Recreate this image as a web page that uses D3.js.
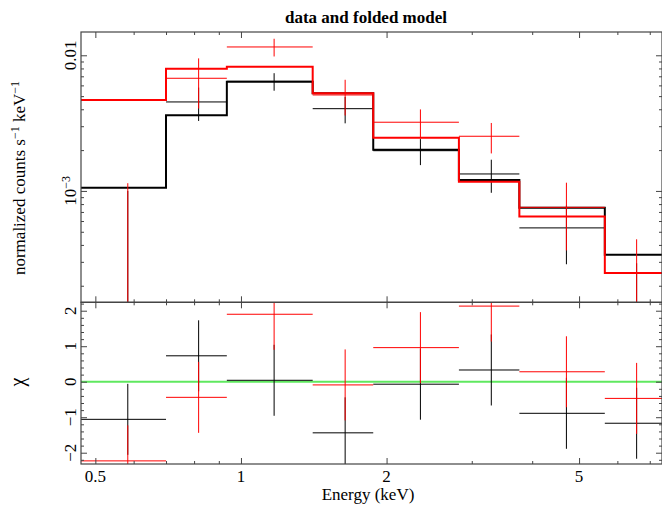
<!DOCTYPE html>
<html>
<head>
<meta charset="utf-8">
<script src="https://cdn.jsdelivr.net/npm/d3@7"></script>
<style>
  html, body { margin: 0; padding: 0; background: #fff; }
  svg { display: block; }
  text { font-family: "Liberation Serif", "DejaVu Serif", serif; fill: #000; }
</style>
</head>
<body>
<svg id="chart" width="662" height="508"></svg>
<script>
// ---------- data ----------
const title = "data and folded model";
const energyEdges = [0.467, 0.700, 0.935, 1.407, 1.877, 2.822, 3.763, 5.652, 7.50];
const blackModel = [1.057e-3, 3.61e-3, 6.39e-3, 5.25e-3, 2.01e-3, 1.205e-3, 7.53e-4, 3.38e-4];
const redModel   = [4.68e-3, 7.97e-3, 8.24e-3, 5.25e-3, 2.47e-3, 1.171e-3, 6.47e-4, 2.48e-4];
const blackData  = [5e-5, 4.53e-3, 6.43e-3, 4.04e-3, 1.98e-3, 1.334e-3, 5.34e-4, 2.8e-5];
const blackErr   = [0.95e-3, 1.25e-3, 0.95e-3, 0.89e-3, 0.43e-3, 0.365e-3, 2.46e-4, 2.65e-4];
const redData    = [-1.74e-3, 6.77e-3, 1.152e-2, 5.1e-3, 3.21e-3, 2.53e-3, 7.57e-4, 0.78e-4];
const redErr     = [2.88e-3, 2.72e-3, 1.72e-3, 1.5e-3, 0.78e-3, 0.64e-3, 3.93e-4, 3.62e-4];
const blackChi   = [-1.06, 0.73, 0.04, -1.44, -0.07, 0.33, -0.89, -1.17];
const redChi     = [-2.23, -0.44, 1.9, -0.09, 0.96, 2.13, 0.28, -0.47];
const chiErr = 1;

const xTickMajor = [0.5, 1, 2, 5];
const xTickLabels = ["0.5", "1", "2", "5"];
const xTickMinor = [0.6, 0.7, 0.8, 0.9, 3, 4, 6, 7];
const yTopMajor = [1e-3, 1e-2];
const yTopLabels = [["10", "−3"], ["0.01", null]];
const yResMajor = [-2, -1, 0, 1, 2];
const yResLabels = ["−2", "−1", "0", "1", "2"];

// ---------- layout ----------
const L = 81, R = 662, T = 32, MID = 302.3, B = 464;
const svg = d3.select("#chart");

const x = d3.scaleLog().domain([0.467, 7.42]).range([L, R]);
const yTop = d3.scaleLog().domain([1.51e-4, 0.01485]).range([MID, T]);
const yRes = d3.scaleLinear().domain([-2.318, 2.237]).range([B, MID]);

const defs = svg.append("defs");
defs.append("clipPath").attr("id", "clipTop").append("rect")
  .attr("x", L).attr("y", T).attr("width", R - L).attr("height", MID - T);
defs.append("clipPath").attr("id", "clipRes").append("rect")
  .attr("x", L).attr("y", MID).attr("width", R - L).attr("height", B - MID);

const bins = d3.range(energyEdges.length - 1).map(i => ({
  lo: energyEdges[i], hi: energyEdges[i + 1], c: (energyEdges[i] + energyEdges[i + 1]) / 2, i
}));

// ---------- top panel ----------
const gTop = svg.append("g").attr("clip-path", "url(#clipTop)");
const yMin = yTop.domain()[0] * 0.5;

function drawCrossesTop(vals, errs, color) {
  const g = gTop.append("g").attr("stroke", color).attr("stroke-width", 1).attr("fill", "none");
  bins.forEach(b => {
    const v = vals[b.i], e = errs[b.i];
    if (v > 0) {
      g.append("line").attr("x1", x(b.lo)).attr("x2", x(b.hi))
        .attr("y1", yTop(v)).attr("y2", yTop(v));
    }
    g.append("line").attr("x1", x(b.c)).attr("x2", x(b.c))
      .attr("y1", yTop(Math.max(v - e, yMin))).attr("y2", yTop(v + e));
  });
}
function drawStep(vals, color) {
  const pts = energyEdges.map((e, i) => [e, vals[Math.min(i, vals.length - 1)]]);
  const line = d3.line().x(d => x(d[0])).y(d => yTop(d[1])).curve(d3.curveStepAfter);
  gTop.append("path").datum(pts).attr("d", line)
    .attr("fill", "none").attr("stroke", color).attr("stroke-width", 2);
}
drawStep(blackModel, "#000");
drawCrossesTop(blackData, blackErr, "#000");
drawCrossesTop(redData, redErr, "#ff0000");
drawStep(redModel, "#ff0000");

// ---------- residual panel ----------
const gRes = svg.append("g").attr("clip-path", "url(#clipRes)");
gRes.append("line").attr("x1", L).attr("x2", R).attr("y1", yRes(0)).attr("y2", yRes(0))
  .attr("stroke", "#5fe85f").attr("stroke-width", 2);
function drawCrossesRes(vals, color) {
  const g = gRes.append("g").attr("stroke", color).attr("stroke-width", 1).attr("fill", "none");
  bins.forEach(b => {
    const v = vals[b.i];
    g.append("line").attr("x1", x(b.lo)).attr("x2", x(b.hi))
      .attr("y1", yRes(v)).attr("y2", yRes(v));
    g.append("line").attr("x1", x(b.c)).attr("x2", x(b.c))
      .attr("y1", yRes(v - chiErr)).attr("y2", yRes(v + chiErr));
  });
}
drawCrossesRes(blackChi, "#000");
drawCrossesRes(redChi, "#ff0000");

// ---------- axes ----------
const axisColor = "#444";
function styleAxis(g) {
  g.select(".domain").remove();
  g.selectAll("line").attr("stroke", axisColor).attr("stroke-width", 1);
  g.selectAll("text").remove();
}
function addAxis(gen, tr) {
  svg.append("g").attr("transform", tr).call(gen).call(styleAxis);
}
[[d3.axisTop, T], [d3.axisBottom, MID], [d3.axisTop, MID], [d3.axisBottom, B]].forEach(([fn, yy]) => {
  addAxis(fn(x).tickValues(xTickMajor).tickSize(-6).tickFormat(""), `translate(0,${yy})`);
  addAxis(fn(x).tickValues(xTickMinor).tickSize(-3).tickFormat(""), `translate(0,${yy})`);
});
const yTopMinor = [];
[1e-4, 1e-3, 1e-2].forEach(d => { for (let k = 2; k <= 9; k++) { const v = k * d; if (v > yTop.domain()[0] && v < yTop.domain()[1]) yTopMinor.push(v); } });
[[d3.axisLeft, L], [d3.axisRight, R]].forEach(([fn, xx]) => {
  addAxis(fn(yTop).tickValues(yTopMajor).tickSize(-6).tickFormat(""), `translate(${xx},0)`);
  addAxis(fn(yTop).tickValues(yTopMinor).tickSize(-3).tickFormat(""), `translate(${xx},0)`);
});
const yResMinor = d3.range(-22, 23, 2).map(v => v / 10).filter(v => Math.abs(v - Math.round(v)) > 1e-6);
[[d3.axisLeft, L], [d3.axisRight, R]].forEach(([fn, xx]) => {
  addAxis(fn(yRes).tickValues(yResMajor).tickSize(-6).tickFormat(""), `translate(${xx},0)`);
  addAxis(fn(yRes).tickValues(yResMinor).tickSize(-3).tickFormat(""), `translate(${xx},0)`);
});

const frame = svg.append("g").attr("fill", "none").attr("stroke", axisColor).attr("stroke-width", 1.2);
frame.append("rect").attr("x", L).attr("y", T).attr("width", R - L).attr("height", MID - T);
frame.append("rect").attr("x", L).attr("y", MID).attr("width", R - L).attr("height", B - MID);

// ---------- labels ----------
svg.append("text").attr("x", 366).attr("y", 23).attr("text-anchor", "middle")
  .attr("font-size", 17).attr("font-weight", "bold").text(title);

xTickMajor.forEach((v, i) => {
  svg.append("text").attr("x", x(v)).attr("y", 482).attr("text-anchor", "middle")
    .attr("font-size", 17).text(xTickLabels[i]);
});
svg.append("text").attr("x", 368).attr("y", 500).attr("text-anchor", "middle")
  .attr("font-size", 17).text("Energy (keV)");

yTopMajor.forEach((v, i) => {
  const t = svg.append("text").attr("transform", `translate(76,${yTop(v)}) rotate(-90)`)
    .attr("text-anchor", "middle").attr("font-size", 17);
  t.append("tspan").text(yTopLabels[i][0]);
  if (yTopLabels[i][1]) t.append("tspan").attr("dy", -6).attr("font-size", 12).text(yTopLabels[i][1]);
});
yResMajor.forEach((v, i) => {
  svg.append("text").attr("transform", `translate(76,${yRes(v)}) rotate(-90)`)
    .attr("text-anchor", "middle").attr("font-size", 17).text(yResLabels[i]);
});

const yl = svg.append("text").attr("transform", "translate(25,178) rotate(-90)")
  .attr("text-anchor", "middle").attr("font-size", 17);
yl.append("tspan").text("normalized counts s");
yl.append("tspan").attr("dy", -6).attr("font-size", 12).text("−1");
yl.append("tspan").attr("dy", 6).text(" keV");
yl.append("tspan").attr("dy", -6).attr("font-size", 12).text("−1");

svg.append("text").attr("transform", "translate(24,382) rotate(-90)")
  .attr("text-anchor", "middle").attr("font-size", 20).text("χ");
</script>
</body>
</html>
